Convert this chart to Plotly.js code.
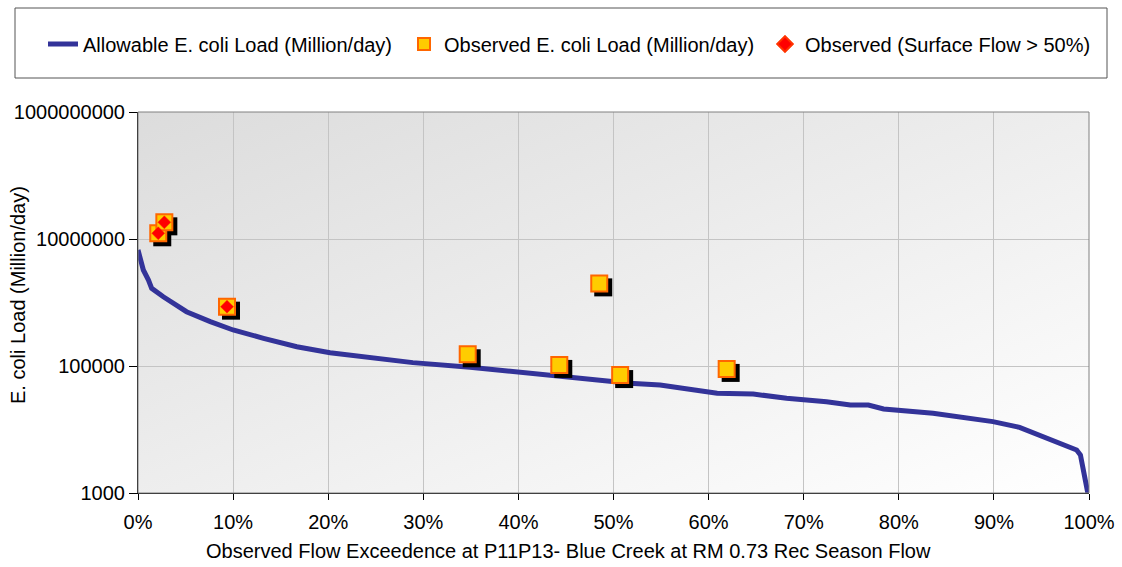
<!DOCTYPE html>
<html>
<head>
<meta charset="utf-8">
<script src="https://cdn.plot.ly/plotly-3.0.1.min.js"></script>
<style>html,body{margin:0;padding:0;background:#fff;}#chart{width:1122px;height:567px;}</style>
</head>
<body>
<div id="chart"></div>
<script>
// ---- Data ----
const curveFlowPct = [0, 0.56, 1.1, 1.44, 2.66, 5.1, 7.6, 10.0, 13.2, 16.7, 20.2, 25.4, 28.9, 34.9, 40.2, 45.4, 50.3, 51.7, 54.9, 59.1, 60.9, 64.7, 68.2, 72.4, 74.9, 76.8, 78.4, 83.6, 87.1, 89.9, 92.7, 94.1, 96.2, 98.7, 99.1, 100];
const curveLoad = [6.71e6, 3.25e6, 2.26e6, 1.67e6, 1.23e6, 7.16e5, 4.99e5, 3.69e5, 2.73e5, 2.01e5, 1.62e5, 1.29e5, 1.13e5, 9.55e4, 7.96e4, 6.79e4, 5.66e4, 5.35e4, 5.02e4, 4.19e4, 3.72e4, 3.62e4, 3.10e4, 2.74e4, 2.43e4, 2.43e4, 2.10e4, 1.80e4, 1.56e4, 1.33e4, 1.08e4, 8.9e3, 6.8e3, 4.75e3, 3.96e3, 800];

const obsFlowPct = [2.13, 2.77, 9.36, 34.67, 44.3, 48.5, 50.7, 61.9];
const obsLoad = [1.23e7, 1.83e7, 8.6e5, 1.53e5, 1.04e5, 2.0e6, 7.2e4, 9.0e4];

const surfFlowPct = [2.13, 2.77, 9.36];
const surfLoad = [1.23e7, 1.83e7, 8.6e5];

const xTickVals = [0, 10, 20, 30, 40, 50, 60, 70, 80, 90, 100];
const xTickText = ['0%', '10%', '20%', '30%', '40%', '50%', '60%', '70%', '80%', '90%', '100%'];
const yTickVals = [1e3, 1e5, 1e7, 1e9];
const yTickText = ['1000', '100000', '10000000', '1000000000'];

const seriesNames = ['Allowable E. coli Load (Million/day)', 'Observed E. coli Load (Million/day)', 'Observed (Surface Flow > 50%)'];
const xTitle = 'Observed Flow Exceedence at P11P13- Blue Creek at RM 0.73 Rec Season Flow';
const yTitle = 'E. coli Load (Million/day)';

// ---- Layout geometry ----
const W = 1122, H = 567;
const M = {l: 138, r: 33, t: 112, b: 74};
const PW = W - M.l - M.r, PH = H - M.t - M.b;
const xRange = [0, 100], yRangeLog = [3, 9];
const shadowPx = 4;
const dx = shadowPx / PW * (xRange[1] - xRange[0]);
const dy = shadowPx / PH * (yRangeLog[1] - yRangeLog[0]);
const px2paperX = p => (p - M.l) / PW;
const px2paperY = p => (H - M.b - p) / PH;

const font = 'Liberation Sans, Arial, sans-serif';
const fs = 20;

const gradSvg = '<svg xmlns="http://www.w3.org/2000/svg" width="100" height="100" preserveAspectRatio="none"><defs><linearGradient id="g" x1="0" y1="0" x2="1" y2="1"><stop offset="0" stop-color="#dcdcdc"/><stop offset="1" stop-color="#ffffff"/></linearGradient></defs><rect width="100" height="100" fill="url(#g)"/></svg>';

const traces = [
  {x: curveFlowPct, y: curveLoad, type: 'scatter', mode: 'lines', name: seriesNames[0],
   line: {color: '#333399', width: 5}, xaxis: 'x', yaxis: 'y'},
  {x: obsFlowPct, y: obsLoad, type: 'scatter', mode: 'markers', showlegend: false, hoverinfo: 'skip',
   marker: {symbol: 'square', size: 18, color: '#000000', line: {width: 0}}, xaxis: 'x2', yaxis: 'y2'},
  {x: obsFlowPct, y: obsLoad, type: 'scatter', mode: 'markers', name: seriesNames[1],
   marker: {symbol: 'square', size: 16, color: '#ffcc00', line: {color: '#ff6600', width: 2}}, xaxis: 'x3', yaxis: 'y3'},
  {x: surfFlowPct, y: surfLoad, type: 'scatter', mode: 'markers', name: seriesNames[2], legendwidth: 280,
   marker: {symbol: 'diamond', size: 10, color: '#ff0000', line: {color: '#ff3300', width: 0.5}}, xaxis: 'x3', yaxis: 'y3'}
];

const hidden = {visible: false, fixedrange: true};
const layout = {
  width: W, height: H,
  margin: M,
  paper_bgcolor: '#ffffff',
  plot_bgcolor: 'rgba(0,0,0,0)',
  font: {family: font, size: fs, color: '#000000'},
  showlegend: true,
  legend: {
    orientation: 'h', x: px2paperX(43), xanchor: 'left', y: px2paperY(44), yanchor: 'middle',
    font: {family: font, size: fs, color: '#000000'}, bgcolor: 'rgba(0,0,0,0)', borderwidth: 0,
    entrywidth: 316, entrywidthmode: 'pixels', itemsizing: 'constant', traceorder: 'normal'
  },
  xaxis: {
    range: xRange, tickmode: 'array', tickvals: xTickVals, ticktext: xTickText, ticks: 'outside', ticklen: 6, tickcolor: '#000',
    ticklabelstandoff: 5,
    showline: true, linecolor: '#000000', linewidth: 1, showgrid: true, gridcolor: '#c4c4c4', gridwidth: 1,
    zeroline: false, tickfont: {family: font, size: fs}, anchor: 'y', fixedrange: true
  },
  yaxis: {
    type: 'log', range: yRangeLog, tickmode: 'array', tickvals: yTickVals, ticktext: yTickText, ticks: 'outside', ticklen: 8,
    tickcolor: '#000', showline: true, linecolor: '#000000', linewidth: 1, showgrid: true, gridcolor: '#c4c4c4',
    gridwidth: 1, zeroline: false, tickfont: {family: font, size: fs}, anchor: 'x', fixedrange: true
  },
  xaxis2: Object.assign({range: [xRange[0] - dx, xRange[1] - dx], overlaying: 'x', anchor: 'y2'}, hidden),
  yaxis2: Object.assign({type: 'log', range: [yRangeLog[0] + dy, yRangeLog[1] + dy], overlaying: 'y', anchor: 'x2'}, hidden),
  xaxis3: Object.assign({range: xRange, overlaying: 'x', anchor: 'y3'}, hidden),
  yaxis3: Object.assign({type: 'log', range: yRangeLog, overlaying: 'y', anchor: 'x3'}, hidden),
  images: [{
    source: 'data:image/svg+xml;charset=utf-8,' + encodeURIComponent(gradSvg),
    xref: 'paper', yref: 'paper', x: 0, y: 1, sizex: 1, sizey: 1, xanchor: 'left', yanchor: 'top',
    sizing: 'stretch', layer: 'below'
  }],
  shapes: [
    {type: 'rect', xref: 'paper', yref: 'paper', x0: 0, x1: 1, y0: 0, y1: 1,
     line: {color: '#808080', width: 1}, fillcolor: 'rgba(0,0,0,0)', layer: 'above'},
    {type: 'rect', xref: 'paper', yref: 'paper', x0: px2paperX(15), x1: px2paperX(1107), y0: px2paperY(78), y1: px2paperY(8),
     line: {color: '#555555', width: 1}, fillcolor: 'rgba(0,0,0,0)', layer: 'above'}
  ],
  annotations: [
    {text: xTitle, xref: 'paper', yref: 'paper', x: px2paperX(568), y: px2paperY(551), xanchor: 'center', yanchor: 'middle',
     showarrow: false, font: {family: font, size: fs, color: '#000'}},
    {text: yTitle, xref: 'paper', yref: 'paper', x: px2paperX(18), y: px2paperY(295), xanchor: 'center', yanchor: 'middle',
     textangle: -90, showarrow: false, font: {family: font, size: fs, color: '#000'}}
  ]
};

Plotly.newPlot('chart', traces, layout, {displayModeBar: false, staticPlot: true});
</script>
</body>
</html>
